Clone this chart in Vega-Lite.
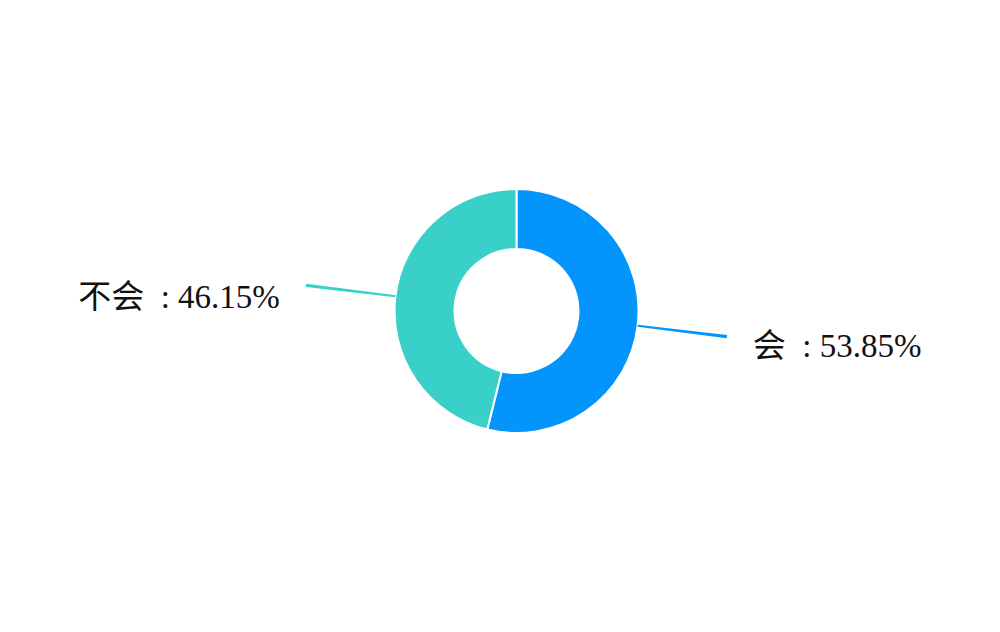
{
  "$schema": "https://vega.github.io/schema/vega-lite/v6.json",
  "width": 1000,
  "height": 632,
  "autosize": {"type": "fit", "contains": "padding"},
  "padding": {"left": 33, "top": 0, "right": 0, "bottom": 10},
  "background": "#ffffff",
  "data": {
    "values": [
      {"category": "会", "value": 53.85},
      {"category": "不会", "value": 46.15}
    ]
  },
  "transform": [
    {"window": [{"op": "sum", "field": "value", "as": "cum"}], "sort": [{"field": "value", "order": "descending"}], "frame": [null, 0]},
    {"calculate": "datum.cum - datum.value", "as": "start"},
    {"calculate": "datum.start + datum.value / 2", "as": "mid"},
    {"calculate": "datum.mid - 0.12", "as": "lead_lo"},
    {"calculate": "datum.mid + 0.12", "as": "lead_hi"},
    {"calculate": "datum.category + '\u00a0\u00a0:\u00a0' + format(datum.value / 100, '.2%')", "as": "label"}
  ],
  "encoding": {
    "color": {
      "field": "category",
      "type": "nominal",
      "scale": {"domain": ["会", "不会"], "range": ["#0395fb", "#3ad0ca"]},
      "legend": null
    }
  },
  "layer": [
    {
      "mark": {"type": "arc", "innerRadius": 62, "outerRadius": 122, "stroke": "#ffffff", "strokeWidth": 2},
      "encoding": {
        "theta": {"field": "start", "type": "quantitative", "scale": {"domain": [0, 100], "range": [0, 6.283185307]}},
        "theta2": {"field": "cum"}
      }
    },
    {
      "mark": {"type": "arc", "innerRadius": 122, "outerRadius": 212},
      "encoding": {
        "theta": {"field": "lead_lo", "type": "quantitative", "scale": {"domain": [0, 100], "range": [0, 6.283185307]}},
        "theta2": {"field": "lead_hi"}
      }
    },
    {
      "transform": [{"filter": "datum.category == '不会'"}],
      "mark": {"type": "text", "radius": 340, "dy": 28, "align": "center", "baseline": "middle", "fontSize": 33, "font": "Liberation Serif, Noto Sans CJK SC", "color": "#111111"},
      "encoding": {
        "theta": {"field": "mid", "type": "quantitative", "scale": {"domain": [0, 100], "range": [0, 6.283185307]}},
        "text": {"field": "label"},
        "color": {"value": "#111111"}
      }
    },
    {
      "transform": [{"filter": "datum.category == '会'"}],
      "mark": {"type": "text", "radius": 323, "dy": -3, "align": "center", "baseline": "middle", "fontSize": 33, "font": "Liberation Serif, Noto Sans CJK SC", "color": "#111111"},
      "encoding": {
        "theta": {"field": "mid", "type": "quantitative", "scale": {"domain": [0, 100], "range": [0, 6.283185307]}},
        "text": {"field": "label"},
        "color": {"value": "#111111"}
      }
    }
  ],
  "config": {"view": {"stroke": null}}
}
